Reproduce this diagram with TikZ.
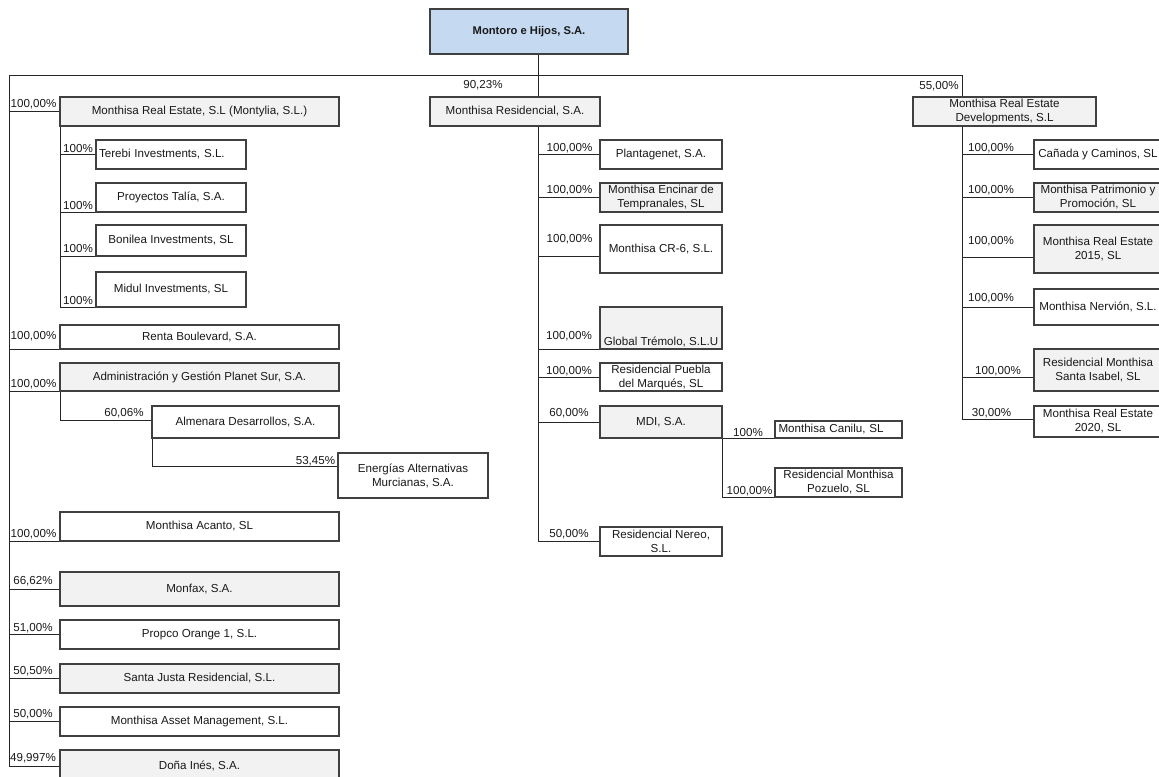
\documentclass[tikz,border=0pt]{standalone}
\usepackage{fontspec}
\setmainfont{Liberation Sans}
\usetikzlibrary{backgrounds,calc}
\definecolor{boxgrey}{HTML}{F2F2F2}
\definecolor{rootblue}{HTML}{C5D9F1}
\definecolor{edgecol}{HTML}{404040}
\tikzset{
  box/.style={draw=edgecol,line width=0.95pt,inner sep=0pt,outer sep=0pt,align=center,
    font=\fontsize{8.7}{10.5}\selectfont,text=black!90},
  wbox/.style={box,fill=white},
  gbox/.style={box,fill=boxgrey},
  rbox/.style={box,fill=rootblue,font=\fontsize{8.4}{10}\selectfont\bfseries},
  pct/.style={inner sep=0pt,font=\fontsize{8.7}{10.5}\selectfont,text=black!90},
  conn/.style={draw=black!85,line width=0.75pt}
}
% #1 extra options, #2 style, #3 name, #4 x1, #5 y1, #6 x2, #7 y2, #8 text
\newcommand\obox[8][]{%
  \node[#2,minimum width={(#6-#4)*0.75pt},minimum height={(#7-#5)*0.75pt},#1] (#3)
    at ({(#4+#6)/2},{(#5+#7)/2}) {#8};}
\begin{document}
\begin{tikzpicture}[x=0.75pt,y=-0.75pt]
\useasboundingbox (0,0) rectangle (1159,776);
\clip (0,0) rectangle (1159,776);
% ---------- boxes ----------
\obox{rbox}{root}{430}{9}{628}{54}{Montoro e Hijos, S.A.}
\obox{gbox}{montylia}{60}{97}{339}{126}{Monthisa Real Estate, S.L (Montylia, S.L.)}
\obox[text width=108pt,align=left]{wbox}{terebi}{96}{140}{246}{169}{Terebi Investments, S.L.}
\obox{wbox}{proyectos}{96}{183}{246}{212}{Proyectos Talía, S.A.}
\obox{wbox}{bonilea}{96}{225}{246}{256}{Bonilea Investments, SL}
\obox{wbox}{midul}{96}{272}{246}{307}{Midul Investments, SL}
\obox{wbox}{renta}{60}{325}{339}{349}{Renta Boulevard, S.A.}
\obox{gbox}{planet}{60}{363}{339}{391}{Administración y Gestión Planet Sur, S.A.}
\obox{wbox}{almenara}{152}{406}{339}{438}{Almenara Desarrollos, S.A.}
\obox{wbox}{energias}{338}{453}{488}{498}{Energías Alternativas\\Murcianas, S.A.}
\obox{wbox}{acanto}{60}{512}{339}{541}{Monthisa Acanto, SL}
\obox{gbox}{monfax}{60}{572}{339}{606}{Monfax, S.A.}
\obox{wbox}{propco}{60}{620}{339}{649}{Propco Orange 1, S.L.}
\obox{gbox}{santajusta}{60}{664}{339}{693}{Santa Justa Residencial, S.L.}
\obox{wbox}{asset}{60}{707}{339}{736}{Monthisa Asset Management, S.L.}
\obox{gbox}{dona}{60}{750}{339}{782}{Doña Inés, S.A.}
\obox{gbox}{residencial}{430}{97}{600}{126}{Monthisa Residencial, S.A.}
\obox{wbox}{plantagenet}{600}{140}{722}{169}{Plantagenet, S.A.}
\obox{gbox}{encinar}{600}{183}{722}{212}{Monthisa Encinar de\\Tempranales, SL}
\obox{wbox}{crseis}{600}{225}{722}{273}{Monthisa CR-6, S.L.}
\obox[text height=27pt,text depth=1.5pt]{gbox}{global}{600}{307}{722}{349}{Global Trémolo, S.L.U}
\obox{wbox}{puebla}{600}{363}{722}{391}{Residencial Puebla\\del Marqués, SL}
\obox{gbox}{mdi}{600}{406}{722}{438}{MDI, S.A.}
\obox[text width=90pt,align=left]{wbox}{canilu}{775}{421}{902}{438}{Monthisa Canilu, SL}
\obox{wbox}{pozuelo}{775}{468}{902}{497}{Residencial Monthisa\\Pozuelo, SL}
\obox{wbox}{nereo}{600}{527}{722}{556}{Residencial Nereo,\\S.L.}
\obox{gbox}{dev}{913}{97}{1096}{126}{Monthisa Real Estate\\Developments, S.L}
\obox{wbox}{canada}{1034}{140}{1162}{169}{Cañada y Caminos, SL}
\obox{gbox}{patrimonio}{1034}{183}{1162}{212}{Monthisa Patrimonio y\\Promoción, SL}
\obox{gbox}{reuno}{1034}{225}{1162}{273}{Monthisa Real Estate\\2015, SL}
\obox{wbox}{nervion}{1034}{289}{1162}{325}{Monthisa Nervión, S.L.}
\obox{gbox}{isabel}{1034}{349}{1162}{391}{Residencial Monthisa\\Santa Isabel, SL}
\obox{wbox}{redos}{1034}{406}{1162}{437}{Monthisa Real Estate\\2020, SL}
% ---------- percentage labels ----------
\node[pct] (p90) at (483,85) {90,23\%};
\node[pct] (p55) at (939,86) {55,00\%};
\node[pct] (pmont) at (33.5,104) {100,00\%};
\node[pct] (pter) at (78,148) {100\%};
\node[pct] (ppro) at (78,205) {100\%};
\node[pct] (pbon) at (78,248) {100\%};
\node[pct] (pmid) at (78,300) {100\%};
\node[pct] (pren) at (33.5,336.5) {100,00\%};
\node[pct] (ppla) at (33.5,384) {100,00\%};
\node[pct] (palm) at (124,413.5) {60,06\%};
\node[pct] (pene) at (315.5,461) {53,45\%};
\node[pct] (paca) at (33.5,534.5) {100,00\%};
\node[pct] (pmon) at (33,581.5) {66,62\%};
\node[pct] (ppro1) at (33,628) {51,00\%};
\node[pct] (psan) at (33,671.5) {50,50\%};
\node[pct] (pass) at (33,714.5) {50,00\%};
\node[pct] (pdon) at (33,758.5) {49,997\%};
\node[pct] (ppla2) at (569.5,148) {100,00\%};
\node[pct] (penc) at (569.5,190.5) {100,00\%};
\node[pct] (pcr) at (569.5,239.5) {100,00\%};
\node[pct] (pglo) at (569,336.5) {100,00\%};
\node[pct] (ppue) at (569,371.5) {100,00\%};
\node[pct] (pmdi) at (569,413.5) {60,00\%};
\node[pct] (pcan) at (748,432.5) {100\%};
\node[pct] (ppoz) at (749.5,491.5) {100,00\%};
\node[pct] (pner) at (569,534.5) {50,00\%};
\node[pct] (pcad) at (991,148.5) {100,00\%};
\node[pct] (ppat) at (991,190) {100,00\%};
\node[pct] (pre15) at (991,241) {100,00\%};
\node[pct] (pnerv) at (991,298.5) {100,00\%};
\node[pct] (pisa) at (998,371) {100,00\%};
\node[pct] (pre20) at (991.5,413.5) {30,00\%};
% ---------- connectors ----------
\begin{scope}[on background layer]
\coordinate (busL) at (9,75);
\coordinate (busR) at (962,75);
\coordinate (rx) at ([xshift=6.75pt]root.south);
\draw[conn] (busL) -- (busR);
% left trunk
\draw[conn] (busL) -- (busL |- dona.west);
\draw[conn] (busL |- montylia.west) -- (montylia.west);
\draw[conn] (busL |- renta.south west) -- (renta.south west);
\draw[conn] (busL |- planet.south west) -- (planet.south west);
\draw[conn] (busL |- acanto.south west) -- (acanto.south west);
\draw[conn] (busL |- monfax.west) -- (monfax.west);
\draw[conn] (busL |- propco.west) -- (propco.west);
\draw[conn] (busL |- santajusta.west) -- (santajusta.west);
\draw[conn] (busL |- asset.west) -- (asset.west);
\draw[conn] (busL |- dona.west) -- (dona.west);
% Montylia
\draw[conn] (montylia.south west) -- (montylia.south west |- midul.south west);
\draw[conn] (montylia.south west |- terebi.west) -- (terebi.west);
\draw[conn] (montylia.south west |- proyectos.south west) -- (proyectos.south west);
\draw[conn] (montylia.south west |- bonilea.south west) -- (bonilea.south west);
\draw[conn] (montylia.south west |- midul.south west) -- (midul.south west);
% Planet Sur
\draw[conn] (planet.south west) |- ($(almenara.north west)!0.44!(almenara.south west)$);
\draw[conn] (almenara.south west) |- ($(energias.north west)!0.31!(energias.south west)$);
% Residencial trunk
\draw[conn] (rx) -- (rx |- nereo.west);
\draw[conn] (rx |- plantagenet.west) -- (plantagenet.west);
\draw[conn] (rx |- encinar.west) -- (encinar.west);
\draw[conn] (rx) |- ($(crseis.north west)!0.65!(crseis.south west)$);
\draw[conn] (rx |- global.south west) -- (global.south west);
\draw[conn] (rx |- puebla.west) -- (puebla.west);
\draw[conn] (rx |- mdi.west) -- (mdi.west);
\draw[conn] (rx |- nereo.west) -- (nereo.west);
% MDI
\draw[conn] (mdi.south east) -- (mdi.south east |- pozuelo.south west);
\draw[conn] (mdi.south east) -- (canilu.south west);
\draw[conn] (mdi.south east |- pozuelo.south west) -- (pozuelo.south west);
% Developments trunk
\draw[conn] (busR) |- ($(redos.north west)!0.45!(redos.south west)$);
\draw[conn] (busR |- canada.west) -- (canada.west);
\draw[conn] (busR |- patrimonio.west) -- (patrimonio.west);
\draw[conn] (busR) |- ($(reuno.north west)!0.667!(reuno.south west)$);
\draw[conn] (busR |- nervion.west) -- (nervion.west);
\draw[conn] (busR) |- ($(isabel.north west)!0.69!(isabel.south west)$);
\end{scope}
\end{tikzpicture}
\end{document}
